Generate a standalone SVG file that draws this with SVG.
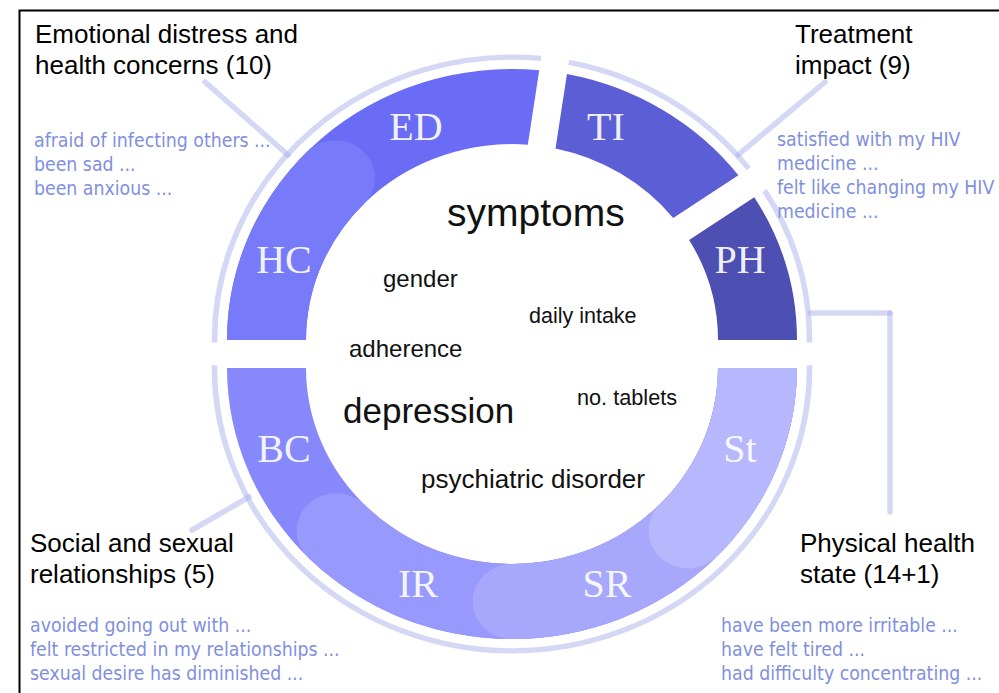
<svg xmlns="http://www.w3.org/2000/svg" width="999" height="693" viewBox="0 0 999 693">
<style>
.title{font-family:"Liberation Sans",Arial,sans-serif;font-size:26px;fill:#000}
.item{font-family:"DejaVu Sans Condensed","DejaVu Sans",sans-serif;font-stretch:condensed;font-size:19.3px;fill:#7f8fe0}
.seg{font-family:"Liberation Serif","Times New Roman",serif;font-size:40px;fill:#fff;fill-opacity:0.93;text-anchor:middle}
.word{font-family:"Liberation Sans",Arial,sans-serif;fill:#111}
.pale{fill:none;stroke:#a9b2ec;stroke-opacity:0.5;stroke-width:5.6}
.conn{fill:none;stroke:#a9b2ec;stroke-opacity:0.5;stroke-width:5.5;stroke-linecap:round}
</style>
<rect width="999" height="693" fill="#fff"/>
<path d="M19.5 693V10.5H999" fill="none" stroke="#000" stroke-width="2"/>

<g id="outline-ring">
<path class="pale" transform="translate(512,340) scale(1,0.951)" d="M-297.5 2.5L-297.5 0A297.5 297.5 0 0 1 29.05-296.08"/>
<path class="pale" transform="translate(512,340) scale(1,0.951)" d="M56.75-292.04A297.5 297.5 0 0 1 236.67-180.27"/>
<path class="pale" transform="translate(512,340) scale(1,0.951)" d="M252.56-157.22A297.5 297.5 0 0 1 297.5 0L297.5 2.5"/>
<path class="pale" transform="translate(512,368) scale(1,0.951)" d="M-297.5-3L-297.5 0A297.5 297.5 0 0 0 0 297.5A297.5 297.5 0 0 0 297.5 0L297.5-3"/>
</g>

<g id="node-ED">
<path transform="translate(512,340) scale(1,0.951)" fill="#6a6cf6" d="M-285 0A285 285 0 0 1 27.23-283.7L15.81-205.39A206 206 0 0 0-206 0Z"/>
<text class="seg" x="416" y="140">ED</text>
</g>
<g id="node-HC">
<path transform="translate(512,340) scale(1,0.951)" fill="#787bf9" d="M-285 0A285 285 0 0 1-205.01-197.98L-148.18-143.1A206 206 0 0 0-206 0Z"/>
<circle transform="translate(512,340) scale(1,0.951)" fill="#787bf9" cx="-176.6" cy="-170.54" r="39.5"/>
<text class="seg" x="284" y="273">HC</text>
</g>
<g id="node-TI">
<path transform="translate(512,340) scale(1,0.951)" fill="#5c5ed6" d="M54.95-279.65A285 285 0 0 1 226.37-173.17L161.22-128.24A206 206 0 0 0 43.52-201.35Z"/>
<text class="seg" x="606" y="140">TI</text>
</g>
<g id="node-PH">
<path transform="translate(512,340) scale(1,0.951)" fill="#4e4fb2" d="M242.26-150.12A285 285 0 0 1 285 0L206 0A206 206 0 0 0 177.12-105.18Z"/>
<text class="seg" x="740" y="273">PH</text>
</g>

<g id="node-BC">
<path transform="translate(512,368) scale(1,0.951)" fill="#8688fb" d="M285 0A285 285 0 0 1 0 285A285 285 0 0 1-285 0L-206 0A206 206 0 0 0 0 206A206 206 0 0 0 206 0Z"/>
<text class="seg" x="284" y="462">BC</text>
</g>
<g id="node-IR">
<path transform="translate(512,368) scale(1,0.951)" fill="#9899fc" d="M285 0A285 285 0 0 1-204.32 198.69L-147.68 143.62A206 206 0 0 0 206 0Z"/>
<circle transform="translate(512,368) scale(1,0.951)" fill="#9899fc" cx="-176" cy="171.16" r="39.5"/>
<text class="seg" x="418" y="597">IR</text>
</g>
<g id="node-SR">
<path transform="translate(512,368) scale(1,0.951)" fill="#a7a8fc" d="M285 0A285 285 0 0 1 0 285L0 206A206 206 0 0 0 206 0Z"/>
<circle transform="translate(512,368) scale(1,0.951)" fill="#a7a8fc" cx="0" cy="245.5" r="39.5"/>
<text class="seg" x="607" y="597">SR</text>
</g>
<g id="node-St">
<path transform="translate(512,368) scale(1,0.951)" fill="#b6b7fc" d="M285 0A285 285 0 0 1 204.32 198.69L147.68 143.62A206 206 0 0 0 206 0Z"/>
<circle transform="translate(512,368) scale(1,0.951)" fill="#b6b7fc" cx="176" cy="171.16" r="39.5"/>
<text class="seg" x="740" y="462">St</text>
</g>

<g id="connectors">
<line class="conn" x1="205" y1="82" x2="288" y2="155"/>
<line class="conn" x1="825" y1="82" x2="738" y2="155"/>
<path class="conn" d="M810 313H890"/>
<path class="conn" d="M890 313V512"/>
<line class="conn" x1="192" y1="530" x2="249" y2="497"/>
</g>

<g id="center-words">
<text class="word" x="447" y="226" font-size="39">symptoms</text>
<text class="word" x="383" y="287" font-size="24">gender</text>
<text class="word" x="529" y="323" font-size="21.5">daily intake</text>
<text class="word" x="349" y="357" font-size="24">adherence</text>
<text class="word" x="343" y="423" font-size="35">depression</text>
<text class="word" x="577" y="405" font-size="21.7">no. tablets</text>
<text class="word" x="421" y="488" font-size="26">psychiatric disorder</text>
</g>

<g id="label-ED">
<text class="title" x="35" y="43">Emotional distress and</text>
<text class="title" x="35" y="74">health concerns (10)</text>
<text class="item" x="34" y="146.5">afraid of infecting others ...</text>
<text class="item" x="34" y="170.5">been sad ...</text>
<text class="item" x="34" y="194.5">been anxious ...</text>
</g>
<g id="label-TI">
<text class="title" x="795" y="43">Treatment</text>
<text class="title" x="795" y="74">impact (9)</text>
<text class="item" x="777" y="146">satisfied with my HIV</text>
<text class="item" x="777" y="170">medicine ...</text>
<text class="item" x="777" y="194">felt like changing my HIV</text>
<text class="item" x="777" y="218">medicine ...</text>
</g>
<g id="label-SS">
<text class="title" x="30" y="552">Social and sexual</text>
<text class="title" x="30" y="583">relationships (5)</text>
<text class="item" x="30" y="632">avoided going out with ...</text>
<text class="item" x="30" y="656">felt restricted in my relationships ...</text>
<text class="item" x="30" y="680">sexual desire has diminished ...</text>
</g>
<g id="label-PH">
<text class="title" x="800" y="552">Physical health</text>
<text class="title" x="800" y="583">state (14+1)</text>
<text class="item" x="721" y="632">have been more irritable ...</text>
<text class="item" x="721" y="656">have felt tired ...</text>
<text class="item" x="721" y="680">had difficulty concentrating ...</text>
</g>
</svg>
